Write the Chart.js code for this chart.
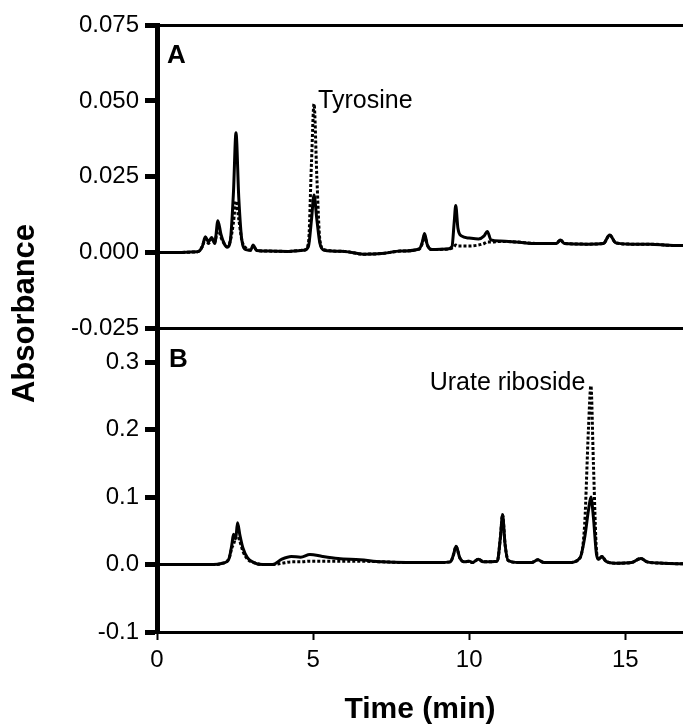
<!DOCTYPE html>
<html>
<head>
<meta charset="utf-8">
<title>Absorbance vs time</title>
<script src="https://cdn.jsdelivr.net/npm/chart.js@4.4.1/dist/chart.umd.min.js"></script>
<style>
  html, body { margin: 0; padding: 0; background: #fff; }
  #wrap { width: 683px; height: 725px; position: relative; }
</style>
</head>
<body>
<div id="wrap"><canvas id="chromChart" width="683" height="725"></canvas></div>
<script>
// Panel A: retention times (min) and absorbance of both runs
const timeA = [0, 1.3, 1.45, 1.55, 1.65, 1.75, 1.85, 1.95, 2.05, 2.15, 2.25, 2.35, 2.45, 2.53, 2.62, 2.72, 2.85, 3.0, 3.08, 3.2,
  3.6, 4.2, 4.7, 4.85, 4.95, 5.03, 5.12, 5.22, 5.35, 6.0, 6.6, 7.2, 7.8, 8.4, 8.5, 8.57, 8.66, 8.8, 9.3, 9.45,
  9.52, 9.57, 9.64, 9.75, 10.0, 10.3, 10.48, 10.58, 10.7, 11.0, 11.5, 12.2, 12.8, 12.92, 13.05, 13.8, 14.3, 14.5, 14.7, 15.2,
  15.8, 16.4, 16.9];
const solidA = [0, 0.0003, 0.002, 0.0052, 0.0035, 0.005, 0.003, 0.0105, 0.006, 0.003, 0.0018, 0.004, 0.02, 0.0395, 0.018, 0.004, 0.001, 0.0008, 0.0025, 0.0007,
  0.0005, 0.0004, 0.0008, 0.002, 0.011, 0.019, 0.011, 0.003, 0.0008, 0.0004, -0.0005, -0.0003, 0.0005, 0.0012, 0.0035, 0.0063, 0.0025, 0.001, 0.0012, 0.002,
  0.01, 0.0155, 0.008, 0.0055, 0.0048, 0.0045, 0.0055, 0.007, 0.0042, 0.0038, 0.0035, 0.003, 0.003, 0.0042, 0.003, 0.0028, 0.003, 0.0058, 0.0032, 0.0028,
  0.0028, 0.0024, 0.0023];
const dottedA = [0, 0.0003, 0.002, 0.0045, 0.003, 0.0045, 0.0035, 0.008, 0.005, 0.003, 0.002, 0.004, 0.01, 0.017, 0.011, 0.004, 0.0015, 0.0008, 0.002, 0.0007,
  0.0005, 0.0004, 0.0008, 0.003, 0.03, 0.049, 0.025, 0.004, 0.001, 0.0004, -0.0005, -0.0003, 0.0005, 0.0012, 0.003, 0.0055, 0.0025, 0.001, 0.0012, 0.0015,
  0.002, 0.0025, 0.0022, 0.0022, 0.0022, 0.0025, 0.003, 0.0035, 0.0035, 0.0037, 0.0035, 0.003, 0.003, 0.0042, 0.003, 0.0028, 0.003, 0.0058, 0.0032, 0.0028,
  0.0028, 0.0024, 0.0023];

// Panel B
const timeB = [0, 1.8, 2.1, 2.3, 2.4, 2.45, 2.52, 2.58, 2.65, 2.75, 2.9, 3.1, 3.4, 3.7, 4.0, 4.3, 4.6, 4.9, 5.3, 5.8,
  6.5, 7.2, 8.0, 9.0, 9.4, 9.5, 9.58, 9.7, 9.85, 10.0, 10.1, 10.3, 10.45, 10.9, 11.0, 11.07, 11.15, 11.25, 11.6, 12.0,
  12.2, 12.4, 13.2, 13.55, 13.7, 13.82, 13.9, 13.98, 14.08, 14.15, 14.25, 14.38, 14.7, 15.2, 15.5, 15.7, 16.2, 16.9];
const solidB = [0, 0, 0.002, 0.008, 0.03, 0.045, 0.038, 0.062, 0.045, 0.025, 0.01, 0.003, 0, 0, 0.008, 0.012, 0.011, 0.015, 0.012, 0.009,
  0.007, 0.004, 0.003, 0.003, 0.004, 0.015, 0.027, 0.01, 0.004, 0.005, 0.003, 0.008, 0.004, 0.005, 0.04, 0.074, 0.03, 0.006, 0.003, 0.003,
  0.007, 0.003, 0.003, 0.01, 0.04, 0.08, 0.1, 0.07, 0.015, 0.008, 0.012, 0.005, 0.002, 0.003, 0.009, 0.004, 0.002, 0.001];
const dottedB = [0, 0, 0.002, 0.008, 0.025, 0.03, 0.04, 0.042, 0.035, 0.02, 0.008, 0.003, 0, 0, 0.002, 0.004, 0.004, 0.005, 0.005, 0.005,
  0.005, 0.004, 0.003, 0.003, 0.004, 0.015, 0.027, 0.01, 0.004, 0.005, 0.003, 0.008, 0.004, 0.005, 0.04, 0.074, 0.03, 0.006, 0.003, 0.003,
  0.007, 0.003, 0.003, 0.01, 0.06, 0.2, 0.265, 0.15, 0.02, 0.008, 0.012, 0.005, 0.002, 0.003, 0.009, 0.004, 0.002, 0.001];

const xTicks = [0, 5, 10, 15];
const ticksA = [-0.025, 0, 0.025, 0.05, 0.075];
const ticksB = [-0.1, 0, 0.1, 0.2, 0.3];

// peak labels: [text, time, absorbance]
const peakA = ['Tyrosine', 5.16, 0.0477];
const peakB = ['Urate riboside', 13.72, 0.259];

document.addEventListener("DOMContentLoaded", function () {
  const FONT = '"Liberation Sans", Arial, Helvetica, sans-serif';
  Chart.defaults.font.family = FONT;
  Chart.defaults.color = '#000';

  const toPoints = (xs, ys) => xs.map((x, i) => ({ x: x, y: ys[i] }));

  function trace(xs, ys, axis, dotted) {
    return {
      data: toPoints(xs, ys),
      yAxisID: axis,
      borderColor: '#000',
      borderWidth: 3,
      borderDash: dotted ? [3, 2] : [],
      pointRadius: 0,
      fill: false,
      cubicInterpolationMode: 'monotone'
    };
  }

  const near = (a, b) => Math.abs(a - b) < 1e-9;

  // panel letters, peak names and the shared y title
  const panelText = {
    id: 'panelText',
    afterDraw(chart) {
      const { ctx, chartArea } = chart;
      const { x, yA, yB } = chart.scales;
      ctx.save();
      ctx.fillStyle = '#000';
      ctx.textBaseline = 'alphabetic';
      ctx.font = 'bold 26px ' + FONT;
      ctx.textAlign = 'left';
      ctx.fillText('A', chartArea.left + 10, yA.top + 38);
      ctx.fillText('B', chartArea.left + 12, yB.top + 38);

      ctx.font = '25px ' + FONT;
      ctx.fillText(peakA[0], x.getPixelForValue(peakA[1]), yA.getPixelForValue(peakA[2]));
      ctx.textAlign = 'right';
      ctx.fillText(peakB[0], x.getPixelForValue(peakB[1]), yB.getPixelForValue(peakB[2]));

      ctx.translate(25, (chartArea.top + chartArea.bottom) / 2 - 15);
      ctx.rotate(-Math.PI / 2);
      ctx.textAlign = 'center';
      ctx.textBaseline = 'middle';
      ctx.font = 'bold 31px ' + FONT;
      ctx.fillText('Absorbance', 0, 0);
      ctx.restore();
    }
  };

  function yAxis(min, max, tickVals, digits, drawEdges) {
    return {
      type: 'linear',
      position: 'left',
      stack: 'panels',
      stackWeight: 1,
      min: min,
      max: max,
      afterFit: (scale) => { scale.width = 157; },
      afterBuildTicks: (scale) => { scale.ticks = tickVals.map(v => ({ value: v })); },
      border: { display: true, color: '#000', width: 5 },
      grid: {
        drawOnChartArea: drawEdges,
        color: (c) => (c.tick && (near(c.tick.value, min) || near(c.tick.value, max))) ? '#000' : 'rgba(0,0,0,0)',
        lineWidth: 3,
        tickColor: '#000',
        tickWidth: 5,
        tickLength: 12
      },
      ticks: {
        padding: 6,
        font: { size: 24 },
        callback: (v) => Number(v).toFixed(digits)
      }
    };
  }

  const ctx = document.getElementById('chromChart').getContext('2d');
  new Chart(ctx, {
    type: 'line',
    data: {
      datasets: [
        trace(timeA, solidA, 'yA', false),
        trace(timeA, dottedA, 'yA', true),
        trace(timeB, solidB, 'yB', false),
        trace(timeB, dottedB, 'yB', true)
      ]
    },
    options: {
      responsive: false,
      animation: false,
      layout: { padding: { top: 25, left: 0, right: 0, bottom: 0 } },
      plugins: {
        legend: { display: false },
        tooltip: { enabled: false }
      },
      scales: {
        x: {
          type: 'linear',
          position: 'bottom',
          min: 0,
          max: 16.85,
          afterFit: (scale) => { scale.height = 93; },
          afterBuildTicks: (scale) => { scale.ticks = xTicks.map(v => ({ value: v })); },
          border: { display: true, color: '#000', width: 3 },
          grid: {
            drawOnChartArea: false,
            tickColor: '#000',
            tickWidth: 2,
            tickLength: 8
          },
          ticks: { padding: 6, font: { size: 24 }, maxRotation: 0 },
          title: {
            display: true,
            text: 'Time (min)',
            font: { size: 30, weight: 'bold', lineHeight: 1 },
            padding: 0
          }
        },
        yB: yAxis(-0.1, 0.35, ticksB, 1, false),
        yA: yAxis(-0.025, 0.075, ticksA, 3, true)
      }
    },
    plugins: [panelText]
  });
});
</script>
</body>
</html>
